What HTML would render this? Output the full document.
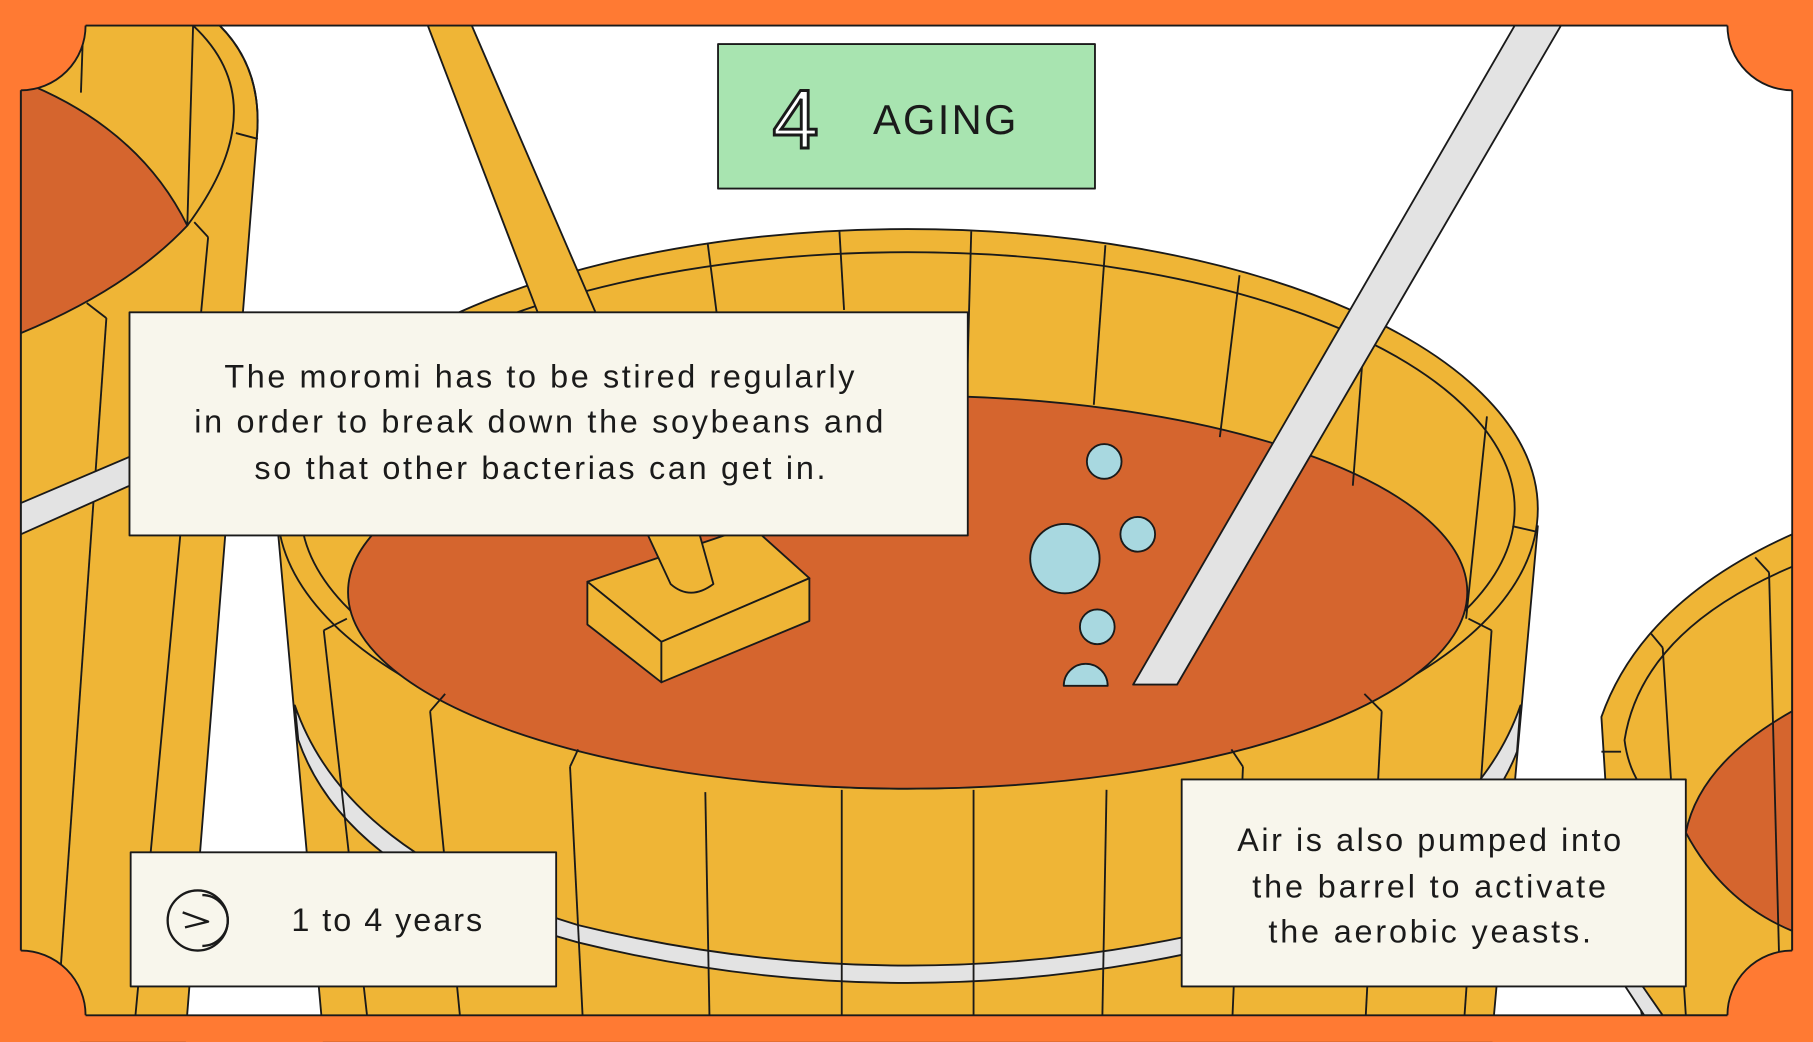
<!DOCTYPE html>
<html><head><meta charset="utf-8"><style>
html,body{margin:0;padding:0;background:#FF7A33;}
svg{display:block}
.t{font-family:"Liberation Sans",sans-serif;fill:#1a1a1a}
</style></head><body>
<svg width="1813" height="1042" viewBox="0 0 1568 901" xmlns="http://www.w3.org/2000/svg">
<g stroke="#1a1a1a" stroke-width="1.6" stroke-linejoin="round">
<rect x="0" y="0" width="1568" height="901" fill="#FF7A33" stroke="none"/>
<rect x="18" y="22" width="1532" height="856" fill="#fff" stroke="none"/>

<path d="M18,22 L190,22 Q228,60 222,120 L160,901 L18,901 Z" fill="#EFB536"/>
<path d="M18,70 Q120,110 162,195 Q110,250 18,288 Z" fill="#D5652E"/>
<path d="M167,22 Q240,90 162,195" fill="none"/>
<path d="M190,22 Q228,60 222,120" fill="none"/>
<line x1="167" y1="22" x2="162" y2="195"/>
<line x1="168" y1="192" x2="180" y2="205"/>
<line x1="180" y1="205" x2="115" y2="901"/>
<line x1="92" y1="275" x2="48" y2="901"/>
<line x1="75" y1="262" x2="92" y2="275"/>
<line x1="204" y1="115" x2="223" y2="120"/>
<line x1="72" y1="22" x2="70" y2="80"/>
<path d="M18,435 L112,395 L112,420 L18,462 Z" fill="#E3E3E3"/>

<path d="M240,455 L280,901 L1290,901 L1330,455 Z" fill="#EFB536"/>
<path d="M255,610 Q300,740 500,800 Q785,870 1070,800 Q1270,740 1315,610 L1312,650 Q1270,760 1070,815 Q785,885 500,815 Q300,760 258,640 Z" fill="#E3E3E3"/>
<g fill="none">
<line x1="280" y1="545" x2="320" y2="901"/>
<line x1="372" y1="615" x2="400" y2="901"/>
<line x1="493" y1="663" x2="505" y2="901"/>
<line x1="610" y1="685" x2="614" y2="901"/>
<line x1="728" y1="683" x2="728" y2="901"/>
<line x1="842" y1="683" x2="842" y2="901"/>
<line x1="957" y1="683" x2="953" y2="901"/>
<line x1="1075" y1="663" x2="1065" y2="901"/>
<line x1="1195" y1="615" x2="1180" y2="901"/>
<line x1="1290" y1="545" x2="1265" y2="901"/>
</g>
<ellipse cx="785" cy="440" rx="545" ry="242" fill="#EFB536"/>
<ellipse cx="785" cy="440" rx="525" ry="222" fill="none"/>
<ellipse cx="785" cy="512" rx="484" ry="170" fill="#D5652E"/>
<g fill="none">
<line x1="612" y1="210" x2="620" y2="272"/>
<line x1="726" y1="200" x2="730" y2="268"/>
<line x1="840" y1="200" x2="836" y2="345"/>
<line x1="956" y1="212" x2="946" y2="350"/>
<line x1="1072" y1="238" x2="1055" y2="378"/>
<line x1="1180" y1="290" x2="1170" y2="420"/>
<line x1="1286" y1="360" x2="1268" y2="535"/>
<line x1="1308" y1="455" x2="1330" y2="460"/>
<line x1="280" y1="545" x2="300" y2="535"/>
<line x1="372" y1="615" x2="385" y2="600"/>
<line x1="493" y1="663" x2="500" y2="648"/>
<line x1="1075" y1="663" x2="1065" y2="648"/>
<line x1="1195" y1="615" x2="1180" y2="600"/>
<line x1="1290" y1="545" x2="1270" y2="535"/>
</g>
<path d="M370,22 L408,22 L515,270 L465,270 Z" fill="#EFB536"/>

<path d="M508,503 L650,455 L700,500 L572,555 Z" fill="#EFB536"/>
<path d="M508,503 L572,555 L572,590 L508,540 Z" fill="#EFB536"/>
<path d="M572,555 L700,500 L700,537 L572,590 Z" fill="#EFB536"/>
<path d="M560,462 L580,505 Q597,520 617,505 L605,462 Z" fill="#EFB536"/>

<path d="M1310,22 L1350,22 L1018,592 L980,592 Z" fill="#E3E3E3"/>

<g fill="#A8D8E0">
<circle cx="955" cy="399" r="15"/>
<circle cx="984" cy="462" r="15"/>
<circle cx="921" cy="483" r="30"/>
<circle cx="949" cy="542" r="15"/>
<path d="M920,593 A19,19 0 0 1 958,593 Z"/>
</g>

<path d="M1550,462 Q1420,520 1385,620 L1390,700 L1420,878 L1550,878 Z" fill="#EFB536"/>
<path d="M1550,490 Q1420,545 1405,640 Q1410,680 1440,700" fill="none"/>
<path d="M1550,615 Q1470,660 1458,720 Q1490,780 1550,805 Z" fill="#D5652E"/>
<line x1="1385" y1="650" x2="1402" y2="650"/>
<line x1="1428" y1="548" x2="1438" y2="560"/>
<line x1="1438" y1="560" x2="1458" y2="878"/>
<line x1="1530" y1="495" x2="1540" y2="878"/>
<line x1="1518" y1="482" x2="1530" y2="495"/>
<path d="M1405,852 L1420,852 L1438,878 L1422,878 Z" fill="#E3E3E3"/>

<g fill="#FF7A33" stroke="none">
<circle cx="18" cy="22" r="56"/><circle cx="1550" cy="22" r="56"/>
<circle cx="18" cy="878" r="56"/><circle cx="1550" cy="878" r="56"/>
</g>
<rect x="0" y="0" width="1568" height="22" fill="#FF7A33" stroke="none"/>
<rect x="0" y="878" width="1568" height="23" fill="#FF7A33" stroke="none"/>
<rect x="0" y="0" width="18" height="901" fill="#FF7A33" stroke="none"/>
<rect x="1550" y="0" width="18" height="901" fill="#FF7A33" stroke="none"/>
<path d="M74,22 L1494,22 M18,78 L18,822 M1550,78 L1550,822 M74,878 L1494,878" fill="none"/>
<path d="M74,22 A56,56 0 0 1 18,78 M1494,22 A56,56 0 0 0 1550,78 M18,822 A56,56 0 0 1 74,878 M1550,822 A56,56 0 0 0 1494,878" fill="none"/>

<rect x="621" y="38" width="326" height="125" fill="#A8E4B0"/>
<rect x="112" y="270" width="725" height="193" fill="#F8F6EC"/>
<rect x="113" y="737" width="368" height="116" fill="#F8F6EC"/>
<rect x="1022" y="674" width="436" height="179" fill="#F8F6EC"/>
<circle cx="171" cy="796" r="26" fill="none" stroke-width="2"/>
<path d="M175,774 A22,22 0 0 1 175,818" fill="none" stroke-width="2"/>
<path d="M158,789 L180,797 L160,802" fill="none" stroke-width="2"/>
</g>
<text x="688" y="128" font-size="72" text-anchor="middle" style="font-family:'Liberation Sans',sans-serif;fill:#fff;stroke:#1a1a1a;stroke-width:2.5">4</text>
<text class="t" x="755" y="116" font-size="36" textLength="124" lengthAdjust="spacing">AGING</text>
<g class="t" font-size="28">
<text class="t" x="194" y="335" textLength="545" lengthAdjust="spacing">The moromi has to be stired regularly</text>
<text class="t" x="168" y="374" textLength="596" lengthAdjust="spacing">in order to break down the soybeans and</text>
<text class="t" x="220" y="414" textLength="494" lengthAdjust="spacing">so that other bacterias can get in.</text>
<text class="t" x="1070" y="736" textLength="332" lengthAdjust="spacing">Air is also pumped into</text>
<text class="t" x="1083" y="776" textLength="306" lengthAdjust="spacing">the barrel to activate</text>
<text class="t" x="1097" y="815" textLength="279" lengthAdjust="spacing">the aerobic yeasts.</text>
</g>
<text class="t" x="252" y="805" font-size="28" textLength="165" lengthAdjust="spacing">1 to 4 years</text>
</svg>
</body></html>
